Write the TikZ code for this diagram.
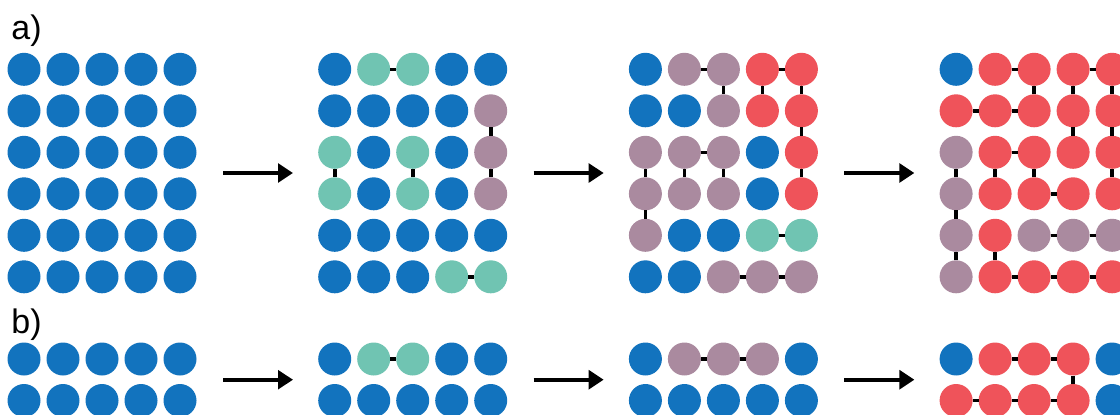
\documentclass[tikz,border=0pt]{standalone}
\usepackage{fontspec}
\setmainfont{Liberation Sans}
\usetikzlibrary{arrows.meta}

\definecolor{bl}{RGB}{18,115,190}
\definecolor{te}{RGB}{112,196,178}
\definecolor{mv}{RGB}{170,138,159}
\definecolor{rd}{RGB}{239,83,90}

\tikzset{
  site/.style={circle,minimum size=16.5pt,inner sep=0pt,outer sep=0pt},
  link/.style={line width=1.8pt},
  flow/.style={line width=2.2pt,-{Triangle[length=7.5pt,width=9.3pt]}},
  tag/.style={anchor=base west,inner sep=0pt,font=\fontsize{17}{20}\selectfont}
}

% one grid of sites: name, x of first column, y of first row, rows of colours
\newcommand{\lattice}[4]{%
  \foreach \row [count=\i from 0] in {#4}{
    \foreach \fc [count=\j from 0] in \row
      \node[site,fill=\fc] (#1-\i-\j) at ({#2+39*\j},{#3+41.5*\i}) {};
  }
}

\begin{document}
\begin{tikzpicture}[x=0.5pt,y=-0.5pt]
  \clip (0,0) rectangle (1120,414);
  \fill[white] (0,0) rectangle (1120,414);

  % a)
  \node[tag] (la) at (11,39) {a)};
  \lattice{a1}{24}{69.3}{{bl,bl,bl,bl,bl},{bl,bl,bl,bl,bl},{bl,bl,bl,bl,bl},
    {bl,bl,bl,bl,bl},{bl,bl,bl,bl,bl},{bl,bl,bl,bl,bl}}
  \lattice{a2}{334.7}{69.3}{{bl,te,te,bl,bl},{bl,bl,bl,bl,mv},{te,bl,te,bl,mv},
    {te,bl,te,bl,mv},{bl,bl,bl,bl,bl},{bl,bl,bl,te,te}}
  \lattice{a3}{645.4}{69.3}{{bl,mv,mv,rd,rd},{bl,bl,mv,rd,rd},{mv,mv,mv,bl,rd},
    {mv,mv,mv,bl,rd},{mv,bl,bl,te,te},{bl,bl,mv,mv,mv}}
  \lattice{a4}{956.1}{69.3}{{bl,rd,rd,rd,rd},{rd,rd,rd,rd,rd},{mv,rd,rd,rd,rd},
    {mv,rd,rd,rd,rd},{mv,rd,mv,mv,mv},{mv,rd,rd,rd,rd}}

  \foreach \p/\q in {0-1/0-2,1-4/2-4,2-4/3-4,2-0/3-0,2-2/3-2,5-3/5-4}
    \draw[link] (a2-\p) -- (a2-\q);
  \foreach \p/\q in {0-1/0-2,0-3/0-4,0-2/1-2,0-3/1-3,0-4/1-4,1-4/2-4,2-1/2-2,
      2-0/3-0,2-1/3-1,2-2/3-2,2-4/3-4,3-0/4-0,4-3/4-4,5-2/5-3,5-3/5-4}
    \draw[link] (a3-\p) -- (a3-\q);
  \foreach \p/\q in {0-1/0-2,0-3/0-4,0-2/1-2,0-3/1-3,0-4/1-4,1-0/1-1,1-1/1-2,
      1-3/2-3,1-4/2-4,2-1/2-2,2-0/3-0,2-1/3-1,2-2/3-2,2-4/3-4,3-2/3-3,3-0/4-0,
      4-2/4-3,4-3/4-4,4-0/5-0,4-1/5-1,5-1/5-2,5-2/5-3,5-3/5-4}
    \draw[link] (a4-\p) -- (a4-\q);

  % b)
  \node[tag] (lb) at (11,333) {b)};
  \lattice{b1}{24}{359}{{bl,bl,bl,bl,bl},{bl,bl,bl,bl,bl}}
  \lattice{b2}{334.7}{359}{{bl,te,te,bl,bl},{bl,bl,bl,bl,bl}}
  \lattice{b3}{645.4}{359}{{bl,mv,mv,mv,bl},{bl,bl,bl,bl,bl}}
  \lattice{b4}{956.1}{359}{{bl,rd,rd,rd,bl},{rd,rd,rd,rd,bl}}

  \draw[link] (b2-0-1) -- (b2-0-2);
  \foreach \p/\q in {0-1/0-2,0-2/0-3}
    \draw[link] (b3-\p) -- (b3-\q);
  \foreach \p/\q in {0-1/0-2,0-2/0-3,0-3/1-3,1-0/1-1,1-1/1-2,1-2/1-3}
    \draw[link] (b4-\p) -- (b4-\q);

  % arrows between the stages
  \foreach \k in {0,1,2}{
    \coordinate (ta\k) at ({223+310.7*\k},173);
    \coordinate (ha\k) at ({293+310.7*\k},173);
    \draw[flow] (ta\k) -- (ha\k);
    \coordinate (tb\k) at ({223+310.7*\k},379.7);
    \coordinate (hb\k) at ({293+310.7*\k},379.7);
    \draw[flow] (tb\k) -- (hb\k);
  }
\end{tikzpicture}
\end{document}
